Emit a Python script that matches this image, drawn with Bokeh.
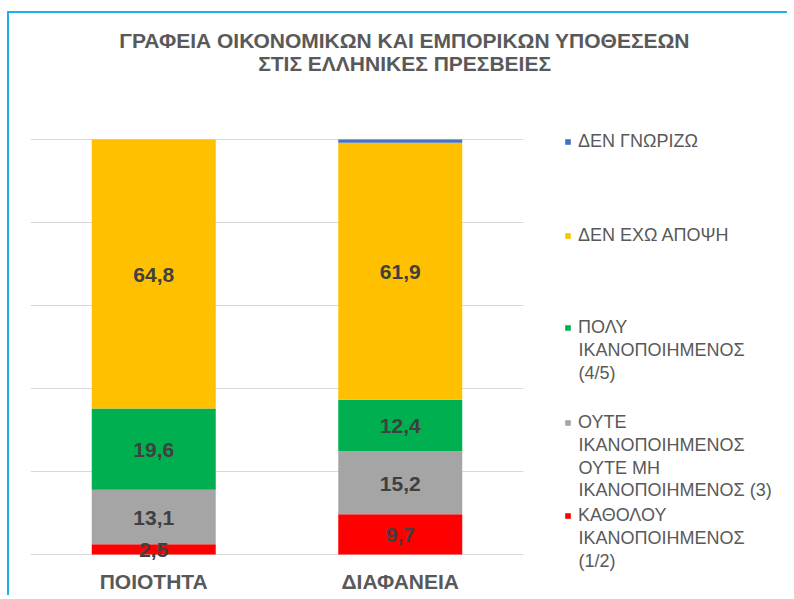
from bokeh.plotting import figure
from bokeh.models import ColumnDataSource, LabelSet, Label, Legend, LegendItem
from bokeh.core.properties import value
from bokeh.embed import file_html
from bokeh.resources import INLINE

categories = ["ΠΟΙΟΤΗΤΑ", "ΔΙΑΦΑΝΕΙΑ"]
series_names = ["katholou", "oute", "poly", "den_echo", "den_gnorizo"]
katholou = [2.5, 9.7]
oute = [13.1, 15.2]
poly = [19.6, 12.4]
den_echo = [64.8, 61.9]
den_gnorizo = [0.0, 0.8]
series_labels = [
    ["ΚΑΘΟΛΟΥ", "ΙΚΑΝΟΠΟΙΗΜΕΝΟΣ", "(1/2)"],
    ["ΟΥΤΕ", "ΙΚΑΝΟΠΟΙΗΜΕΝΟΣ", "ΟΥΤΕ ΜΗ", "ΙΚΑΝΟΠΟΙΗΜΕΝΟΣ (3)"],
    ["ΠΟΛΥ", "ΙΚΑΝΟΠΟΙΗΜΕΝΟΣ", "(4/5)"],
    ["ΔΕΝ ΕΧΩ ΑΠΟΨΗ"],
    ["ΔΕΝ ΓΝΩΡΙΖΩ"],
]
colors = ["#FF0000", "#A5A5A5", "#00B050", "#FFC000", "#4472C4"]
grid_ticks = [0, 20, 40, 60, 80, 100]
title_lines = ["ΓΡΑΦΕΙΑ ΟΙΚΟΝΟΜΙΚΩΝ  ΚΑΙ ΕΜΠΟΡΙΚΩΝ ΥΠΟΘΕΣΕΩΝ", "ΣΤΙΣ ΕΛΛΗΝΙΚΕΣ  ΠΡΕΣΒΕΙΕΣ"]

xpos = [i + 0.5 for i in range(len(categories))]
data = {"x": xpos, "katholou": katholou, "oute": oute, "poly": poly,
        "den_echo": den_echo, "den_gnorizo": den_gnorizo}
source = ColumnDataSource(data)

FONT = "Liberation Sans"
GRAY = "#595959"
CW, CH = 780, 584
LEFT = 21
ZERO_PAGE = 554          # page y of the 0 line
ZERO_FROM_BOTTOM = 43    # px from canvas bottom to the 0 line
X0_PAGE = 30             # page x of the plot-area left edge
PX_X = 246.5             # px per category
PX_Y = 4.15              # px per percent


def dy(page_y):
    """page y (px) -> data y"""
    return (ZERO_PAGE - page_y) / PX_Y


def dx(page_x):
    return (page_x - X0_PAGE) / PX_X


p = figure(width=CW, height=CH,
           x_range=(0, (CW - LEFT) / PX_X),
           y_range=(-ZERO_FROM_BOTTOM / PX_Y, (CH - ZERO_FROM_BOTTOM) / PX_Y),
           output_backend="svg", toolbar_location=None,
           min_border_left=LEFT, min_border_right=0, min_border_top=0, min_border_bottom=0)
p.margin = (11, 0, 0, 7)
p.styles = {"border-top": "2px solid #1DB0EE", "border-left": "2px solid #1DB0EE"}
p.outline_line_color = None
p.grid.visible = False
p.xaxis.visible = False
p.yaxis.visible = False

# gridlines spanning only the category area
p.segment(x0=0, x1=len(categories), y0=grid_ticks, y1=grid_ticks,
          line_color="#D9D9D9", line_width=1)

renderers = p.vbar_stack(series_names, x="x", width=0.503, source=source,
                         color=colors, line_color=None)

# category labels under the bars
csrc = ColumnDataSource(dict(x=xpos, y=[0] * len(xpos), t=categories))
p.add_layout(LabelSet(x="x", y="y", text="t", source=csrc, text_align="center",
                      text_baseline="middle", y_offset=-27,
                      text_font=value(FONT), text_font_style="bold",
                      text_font_size="21px", text_color=GRAY))

# data labels
lab_x, lab_y, lab_t = [], [], []
for i, xc in enumerate(xpos):
    base = 0.0
    for s in series_names:
        v = data[s][i]
        if v >= 1:
            lab_x.append(xc)
            lab_y.append(base + v / 2)
            lab_t.append(f"{v:.1f}".replace(".", ","))
        base += v
lsrc = ColumnDataSource(dict(x=lab_x, y=lab_y, t=lab_t))
p.add_layout(LabelSet(x="x", y="y", text="t", source=lsrc, text_align="center",
                      text_baseline="middle", text_font=value(FONT), text_font_style="bold",
                      text_font_size="21px", text_color="#404040", y_offset=-1))

# title (two centred lines)
for ln, py in zip(title_lines, [40, 63]):
    p.add_layout(Label(x=dx(407), y=dy(py), text=ln,
                       text_align="center", text_baseline="alphabetic",
                       text_font=FONT, text_font_style="bold",
                       text_font_size="21px", text_color=GRAY))

# legend: glyph + first line via Legend, further lines as labels
LEG_FS = 18
first_line_page = [515, 422, 327, 235, 141]
LINE_STEP = 22.6
for r, lines, cy in zip(renderers, series_labels, first_line_page):
    h = 1.2 * LEG_FS
    bottom_page = cy + h / 2
    lg = Legend(items=[LegendItem(label=lines[0], renderers=[r])],
                location=(564 - X0_PAGE, ZERO_FROM_BOTTOM + ZERO_PAGE - bottom_page),
                padding=0, margin=0, spacing=0, border_line_color=None,
                background_fill_alpha=0, glyph_width=7, glyph_height=7, label_standoff=7,
                label_height=int(h),
                label_text_font=FONT, label_text_font_size=f"{LEG_FS}px",
                label_text_color=GRAY)
    p.add_layout(lg, "center")
    for k, extra in enumerate(lines[1:], start=1):
        p.add_layout(Label(x=dx(578), y=dy(cy + k * LINE_STEP), text=extra,
                           text_align="left", text_baseline="middle",
                           text_font=FONT, text_font_size=f"{LEG_FS}px",
                           text_color=GRAY))

open("out.html", "w").write(file_html(p, INLINE))
